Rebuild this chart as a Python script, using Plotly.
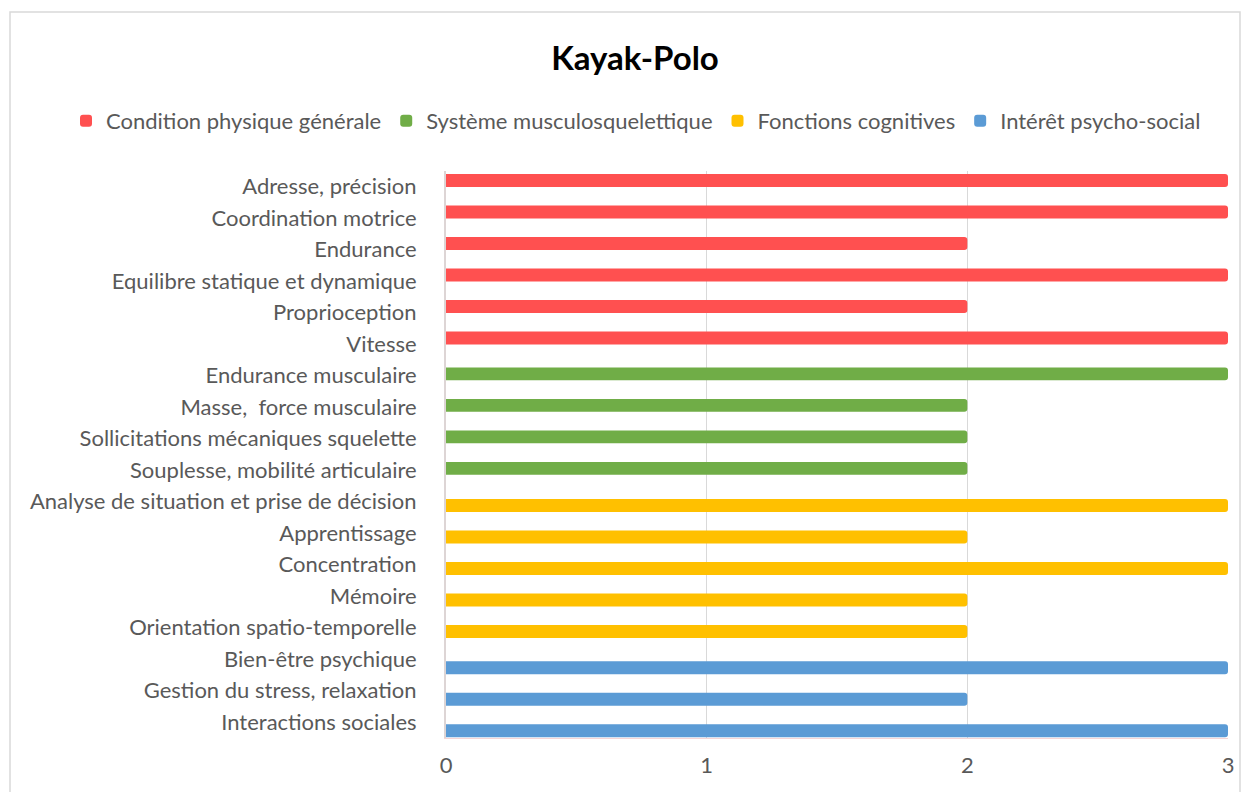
import plotly.graph_objects as go

# categories per group, top to bottom
physique = ["Adresse, précision", "Coordination motrice", "Endurance",
            "Equilibre statique et dynamique", "Proprioception", "Vitesse"]
physique_val = [3, 3, 2, 3, 2, 3]

muscu = ["Endurance musculaire", "Masse,  force musculaire",
         "Sollicitations mécaniques squelette", "Souplesse, mobilité articulaire"]
muscu_val = [3, 2, 2, 2]

cognitif = ["Analyse de situation et prise de décision", "Apprentissage",
            "Concentration", "Mémoire", "Orientation spatio-temporelle"]
cognitif_val = [3, 2, 3, 2, 2]

social = ["Bien-être psychique", "Gestion du stress, relaxation", "Interactions sociales"]
social_val = [3, 2, 3]

all_cats = physique + muscu + cognitif + social

series = [
    ("Condition physique générale", physique, physique_val, "#FF5050", -0.405),
    ("Système musculosquelettique", muscu, muscu_val, "#70AD47", -0.265),
    ("Fonctions cognitives", cognitif, cognitif_val, "#FFC000", -0.085),
    ("Intérêt psycho-social", social, social_val, "#5B9BD5", 0.065),
]

FONT = "Lato, 'Open Sans', sans-serif"
TXT = "#595959"

# the page body adds 8px, so the figure is laid out 8px up/left
L, R, T, B = 438, 30, 163, 62
PW = 1250 - L - R
PH = 792 - T - B

fig = go.Figure()

for name, cats, vals, color, off in series:
    fig.add_trace(go.Bar(
        x=vals,
        y=cats,
        orientation='h',
        name=name,
        width=0.41,
        offset=off,
        marker=dict(color=color, cornerradius=3,
                    line=dict(color=color, width=0)),
    ))

fig.update_layout(
    barmode='overlay',
    width=1250,
    height=792,
    margin=dict(l=L, r=R, t=T, b=B, autoexpand=False),
    paper_bgcolor='white',
    plot_bgcolor='white',
    font=dict(family=FONT, size=22, color=TXT),
    title=dict(text="<b>Kayak-Polo</b>", xref='container', x=(635 - 8) / 1250,
               xanchor='center', y=1 - (58 - 8) / 792, yanchor='middle',
               font=dict(family=FONT, size=33, color="#000000")),
    # anchored left of the plot area so it can use the full width on one row
    legend=dict(orientation='h', xref='paper', yref='paper',
                x=(58 - L) / PW, xanchor='left',
                y=1 + (T - (121 - 8)) / PH, yanchor='middle',
                font=dict(family=FONT, size=22, color=TXT),
                itemwidth=30, tracegroupgap=0),
    showlegend=True,
)

fig.update_xaxes(
    range=[0, 3],
    tickvals=[0, 1, 2, 3],
    showgrid=True,
    gridcolor="#D9D9D9",
    gridwidth=1,
    zeroline=False,
    showline=True,
    linecolor="#F6D5D5",
    linewidth=1,
    ticks='',
    ticklabelstandoff=8,
    tickfont=dict(family=FONT, size=22, color=TXT),
)

fig.update_yaxes(
    type='category',
    categoryorder='array',
    categoryarray=all_cats,
    autorange='reversed',
    showgrid=False,
    showline=True,
    linecolor="#DDD5D5",
    linewidth=2,
    ticks='',
    ticklabelstandoff=23,
    tickfont=dict(family=FONT, size=22, color=TXT),
)

# thin frame around the chart area
fig.add_shape(type='rect', xref='paper', yref='paper',
              x0=(2 - L) / PW, x1=(1232 - L) / PW,
              y0=-0.3, y1=1 + (T - 4) / PH,
              line=dict(color="#D9D9D9", width=1.5), layer='below')

fig.write_html("out.html")
